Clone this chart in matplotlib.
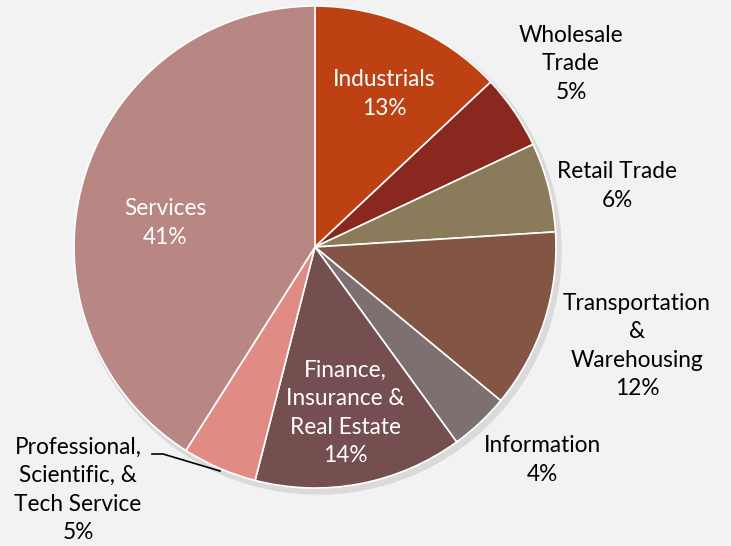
import matplotlib
matplotlib.use("Agg")
import matplotlib.pyplot as plt

# ── data ──────────────────────────────────────────────────────────────────
sectors = ["Industrials", "Wholesale\nTrade", "Retail Trade",
           "Transportation\n&\nWarehousing", "Information",
           "Finance,\nInsurance &\nReal Estate",
           "Professional,\nScientific, &\nTech Service", "Services"]
shares = [13, 5, 6, 12, 4, 14, 5, 41]

colors = ["#BE4114", "#8A271E", "#8C7B5B", "#835545",
          "#7E7070", "#754F4F", "#E08C84", "#B88784"]

# label layout (pixel coords, y from top), text colour
label_xy = [(384, 94), (571, 64), (617, 186), (637, 346),
            (542, 460), (345, 413), (78, 490), (165, 223)]
label_col = ["white", "black", "black", "black",
             "black", "white", "black", "white"]

W, H = 731, 546
BG = "#F2F2F2"

plt.rcParams["font.family"] = ["Lato", "DejaVu Sans"]

fig = plt.figure(figsize=(W / 100, H / 100), dpi=100, facecolor=BG)
ax = fig.add_axes([0, 0, 1, 1])
ax.set_facecolor(BG)

cx, cy, r = 315, H - 247, 241

# faint shadow
shadow = plt.Circle((cx + 3, cy - 4), r + 2, color="#DADADA", zorder=0)
ax.add_patch(shadow)

ax.pie(shares, colors=colors, startangle=90, counterclock=False,
       center=(cx, cy), radius=r, frame=True,
       wedgeprops=dict(edgecolor="white", linewidth=1.2))
ax.set_xlim(0, W)
ax.set_ylim(0, H)
ax.set_aspect("equal")
ax.axis("off")

for name, val, (x, y), c in zip(sectors, shares, label_xy, label_col):
    ax.text(x, H - y, f"{name}\n{val}%", ha="center", va="center",
            color=c, fontsize=16.3, linespacing=1.45)

# leader line for the small "Professional" slice
ax.plot([152, 163, 220], [H - 454, H - 454, H - 471], color="black", lw=1.2)

fig.savefig("out.png", dpi=100, facecolor=BG)
